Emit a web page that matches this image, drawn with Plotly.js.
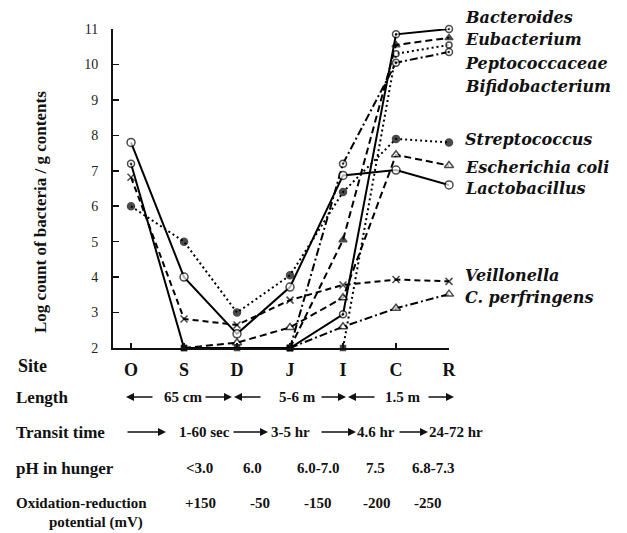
<!DOCTYPE html>
<html>
<head>
<meta charset="utf-8">
<script src="https://cdn.plot.ly/plotly-3.0.1.min.js"></script>
<style>html,body{margin:0;padding:0;background:#fff;}#chart{width:627px;height:533px;}</style>
</head>
<body>
<div id="chart"></div>
<script>
// ---------------- data ----------------
const sites = ['O', 'S', 'D', 'J', 'I', 'C', 'R'];
const FLOOR = 2.0; // detection limit (bottom of axis)

const bacteroides     = [7.2, 2.0, 2.0, 2.0, 2.95, 10.85, 11.0];
const eubacterium     = [null, null, null, 2.0, 5.05, 10.55, 10.75];
const peptococcaceae  = [null, null, null, null, 2.0, 10.3, 10.55];
const bifidobacterium = [null, null, null, 2.0, 7.2, 10.05, 10.35];
const streptococcus   = [6.0, 5.0, 3.0, 4.05, 6.4, 7.9, 7.8];
const escherichia     = [null, 2.0, 2.15, 2.58, 3.42, 7.45, 7.15];
const lactobacillus   = [7.8, 4.0, 2.4, 3.72, 6.87, 7.02, 6.6];
const veillonella     = [6.82, 2.82, 2.65, 3.35, 3.78, 3.93, 3.88];
const perfringens     = [null, null, null, 2.0, 2.6, 3.12, 3.52];

const seriesNames = ['Bacteroides', 'Eubacterium', 'Peptococcaceae', 'Bifidobacterium',
  'Streptococcus', 'Escherichia coli', 'Lactobacillus', 'Veillonella', 'C. perfringens'];
const seriesValues = [bacteroides, eubacterium, peptococcaceae, bifidobacterium,
  streptococcus, escherichia, lactobacillus, veillonella, perfringens];

const yTicks = [2, 3, 4, 5, 6, 7, 8, 9, 10, 11];

const rowLabels = ['Length', 'Transit time', 'pH in hunger'];
const lengthLabels = ['65 cm', '5-6 m', '1.5 m'];
const transitLabels = ['1-60 sec', '3-5 hr', '4.6 hr', '24-72 hr'];
const phLabels = ['<3.0', '6.0', '6.0-7.0', '7.5', '6.8-7.3'];
const orpLabels = ['+150', '-50', '-150', '-200', '-250'];

// ---------------- styles ----------------
const W = 627, H = 533;
const M = {l: 113, r: 178, t: 29, b: 185};
const PW = W - M.l - M.r, PH = H - M.t - M.b;
const SERIF = 'Liberation Serif, Times New Roman, serif';
const LEGF = 'DejaVu Serif, Georgia, serif';

const styles = [
  {dash: 'solid', symbol: 'circle-dot', size: 7, fill: 'white'},
  {dash: '7px,4px', symbol: 'triangle-up', size: 7, fill: 'black'},
  {dash: '2px,3px', symbol: 'circle', size: 6, fill: 'white'},
  {dash: '8px,3px,2px,3px', symbol: 'circle-dot', size: 7, fill: 'white'},
  {dash: '2px,3px', symbol: 'circle', size: 7, fill: 'black'},
  {dash: '7px,4px', symbol: 'triangle-up', size: 8, fill: 'white'},
  {dash: 'solid', symbol: 'circle', size: 8, fill: 'white'},
  {dash: '6px,4px', symbol: 'x-thin', size: 7, fill: 'black'},
  {dash: '8px,3px,2px,3px', symbol: 'triangle-up', size: 8, fill: 'white'}
];
const legendY = [17, 40, 63, 86, 139, 167, 188, 275, 297];

const traces = seriesValues.map((vals, i) => {
  const st = styles[i];
  return {
    type: 'scatter', mode: 'lines+markers', name: seriesNames[i],
    x: sites, y: vals, connectgaps: false, cliponaxis: false,
    line: {color: 'black', width: 2, dash: st.dash},
    marker: {
      symbol: vals.map(v => v === FLOOR ? 'square' : st.symbol),
      size: vals.map(v => v === FLOOR ? 5 : st.size),
      color: vals.map(v => v === FLOOR ? 'black' : st.fill),
      line: {color: 'black', width: 1.5}
    },
    hoverinfo: 'x+y+name'
  };
});

// pixel -> paper helpers
const px = x => (x - M.l) / PW;
const py = y => (H - M.b - y) / PH;
function txt(t, x, y, size, anchor, extra) {
  return Object.assign({
    text: t, xref: 'paper', yref: 'paper', x: px(x), y: py(y),
    xanchor: anchor || 'center', yanchor: 'middle', showarrow: false,
    font: {family: SERIF, size: size, color: '#111', weight: 'bold'}
  }, extra || {});
}
function arrow(xTail, xHead, y) {
  return {
    text: '', xref: 'paper', yref: 'paper', x: px(xHead), y: py(y),
    ax: xTail - xHead, ay: 0, showarrow: true, arrowhead: 2, arrowsize: 1,
    arrowwidth: 1.6, arrowcolor: '#111', standoff: 0, startstandoff: 0
  };
}

const ann = [];
// legend labels
seriesNames.forEach((n, i) => {
  ann.push({
    text: n, xref: 'paper', yref: 'paper', x: px(463), y: py(legendY[i]),
    xanchor: 'left', yanchor: 'middle', showarrow: false,
    font: {family: LEGF, size: 16, color: '#111', weight: 'bold', style: 'italic'}
  });
});
// y title
ann.push(txt('Log count of bacteria / g contents', 40, 212, 17, 'center', {textangle: -90}));
// Site
ann.push(txt('Site', 16, 366, 18, 'left'));
// rows
const rowY = [397, 432, 468];
rowLabels.forEach((r, i) => ann.push(txt(r, 14, rowY[i], 17, 'left')));
ann.push(txt('Oxidation-reduction', 14, 503, 15, 'left'));
ann.push(txt('potential (mV)', 145, 522, 15, 'right'));

// Length row
const lenCenters = [183, 297, 403];
lengthLabels.forEach((t, i) => ann.push(txt(t, lenCenters[i], 397, 15)));
[[154, 126], [204, 232], [262, 234], [320, 346], [376, 348], [427, 454]].forEach(a => ann.push(arrow(a[0], a[1], 397)));
// Transit row
const trCenters = [204, 290, 376, 456];
transitLabels.forEach((t, i) => ann.push(txt(t, trCenters[i], 432, 15)));
[[126, 166], [232, 268], [320, 356], [398, 428]].forEach(a => ann.push(arrow(a[0], a[1], 432)));
// pH row
const phCenters = [199, 252, 318, 375, 433];
phLabels.forEach((t, i) => ann.push(txt(t, phCenters[i], 468, 15)));
// ORP row
const orpCenters = [200, 260, 318, 377, 428];
orpLabels.forEach((t, i) => ann.push(txt(t, orpCenters[i], 503, 15)));

const layout = {
  width: W, height: H, margin: M, showlegend: false,
  paper_bgcolor: 'white', plot_bgcolor: 'white',
  xaxis: {
    type: 'category', categoryorder: 'array', categoryarray: sites,
    range: [-0.34, 6], showline: true, linewidth: 2, linecolor: '#111',
    ticks: 'inside', ticklen: 5, tickwidth: 1.5, tickcolor: '#111',
    showgrid: false, zeroline: false, fixedrange: true,
    tickfont: {family: SERIF, size: 18, color: '#111', weight: 'bold'},
    ticklabelstandoff: 4
  },
  yaxis: {
    range: [2, 11], tickvals: yTicks, showline: true, linewidth: 2, linecolor: '#111',
    ticks: 'inside', ticklen: 6, tickwidth: 1.5, tickcolor: '#111',
    showgrid: false, zeroline: false, fixedrange: true,
    tickfont: {family: SERIF, size: 14, color: '#222'},
    ticklabelstandoff: 10
  },
  annotations: ann
};

Plotly.newPlot('chart', traces, layout, {staticPlot: true, displayModeBar: false});
</script>
</body>
</html>
